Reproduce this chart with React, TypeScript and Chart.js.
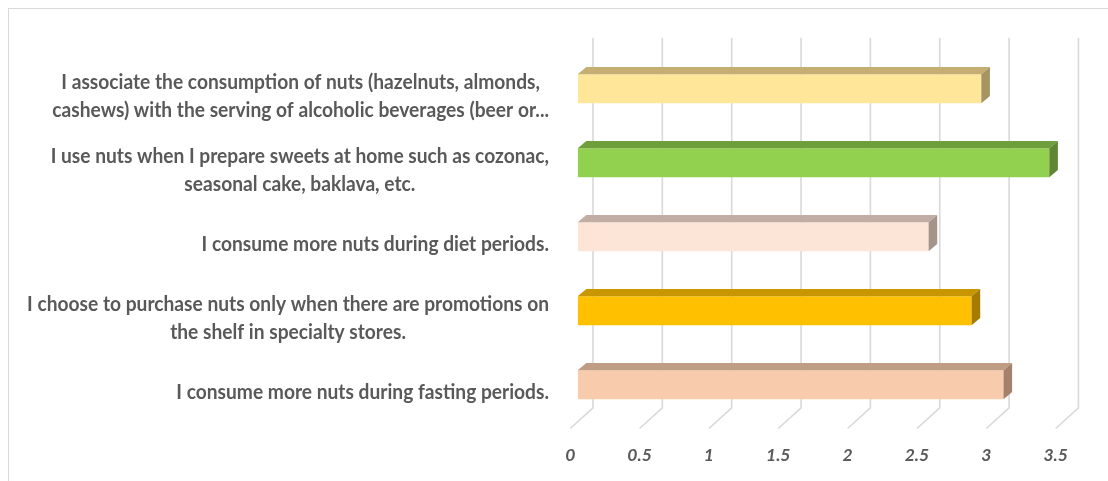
import React, { useEffect, useRef } from "react";
import { Chart, registerables } from "chart.js";

Chart.register(...registerables);

const categories: string[][] = [
  ["I associate the consumption of nuts (hazelnuts, almonds,", "cashews) with the serving of alcoholic beverages (beer or..."],
  ["I use nuts when I prepare sweets at home such as cozonac,", "seasonal cake, baklava, etc."],
  ["I consume more nuts during diet periods."],
  ["I choose to purchase nuts only when there are promotions on", "the shelf in specialty stores."],
  ["I consume more nuts during fasting periods."],
];
const values = [2.91, 3.4, 2.53, 2.84, 3.07];
const frontColors = ["#FFE699", "#92D050", "#FCE4D6", "#FFC000", "#F8CBAD"];
const topColors = ["#C4AE74", "#6F9E3D", "#C1ADA3", "#C79600", "#BF9C84"];
const sideColors = ["#A69462", "#5F8733", "#A59489", "#A67C00", "#A5806A"];
const tickValues = [0, 0.5, 1, 1.5, 2, 2.5, 3, 3.5];
const tickLabels = ["0", "0.5", "1", "1.5", "2", "2.5", "3", "3.5"];

const W = 1108;
const H = 481;
const BACK_DX = 15.3;
const BACK_DY = -14;
const FRONT_DX = -7.5;
const FRONT_DY = 6.7;
const BAR_DX = 8.6;
const BAR_DY = 7.3;
const TEXT = "#595959";
const LABEL_RIGHT = 549;
const LINE_GAP = 27.7;
const LABEL_FONT = "bold 19.2px Lato";
const LABEL_SY = 1.11;

const threeD = {
  id: "threeD",
  beforeDatasetsDraw(chart: any) {
    const { ctx, chartArea: a } = chart;
    const xs = chart.scales.x;
    ctx.save();
    ctx.strokeStyle = "#D9D9D9";
    ctx.lineWidth = 1.6;
    tickValues.forEach((v) => {
      const px = xs.getPixelForValue(v);
      ctx.beginPath();
      ctx.moveTo(px + BACK_DX, a.top + BACK_DY);
      ctx.lineTo(px + BACK_DX, a.bottom + BACK_DY);
      ctx.lineTo(px + FRONT_DX, a.bottom + FRONT_DY);
      ctx.stroke();
    });
    ctx.restore();
  },
  afterDatasetsDraw(chart: any) {
    const { ctx } = chart;
    const meta = chart.getDatasetMeta(0);
    ctx.save();
    meta.data.forEach((bar: any, i: number) => {
      const { x, y, base, height } = bar.getProps(["x", "y", "base", "height"], true);
      const top = y - height / 2;
      const bottom = y + height / 2;
      ctx.fillStyle = topColors[i];
      ctx.beginPath();
      ctx.moveTo(base, top);
      ctx.lineTo(base + BAR_DX, top - BAR_DY);
      ctx.lineTo(x + BAR_DX, top - BAR_DY);
      ctx.lineTo(x, top);
      ctx.closePath();
      ctx.fill();
      ctx.fillStyle = sideColors[i];
      ctx.beginPath();
      ctx.moveTo(x, top);
      ctx.lineTo(x + BAR_DX, top - BAR_DY);
      ctx.lineTo(x + BAR_DX, bottom - BAR_DY);
      ctx.lineTo(x, bottom);
      ctx.closePath();
      ctx.fill();
    });
    ctx.restore();
  },
  afterDraw(chart: any) {
    const { ctx, chartArea: a } = chart;
    const xs = chart.scales.x;
    const ys = chart.scales.y;
    ctx.save();
    ctx.fillStyle = TEXT;
    // category labels
    ctx.font = LABEL_FONT;
    ctx.textAlign = "center";
    ctx.textBaseline = "alphabetic";
    categories.forEach((lines, i) => {
      const c = ys.getPixelForValue(i) + 14.3;
      const bw = Math.max(...lines.map((l) => ctx.measureText(l).width));
      const cx = LABEL_RIGHT - bw / 2;
      lines.forEach((line, j) => {
        const by = c + (j - (lines.length - 1) / 2) * LINE_GAP;
        ctx.save();
        ctx.translate(cx, by);
        ctx.scale(1, LABEL_SY);
        ctx.fillText(line, 0, 0);
        ctx.restore();
      });
    });
    // value axis labels on the front floor edge
    ctx.font = "italic bold 17.5px Lato";
    ctx.textBaseline = "middle";
    tickValues.forEach((v, i) => {
      const px = xs.getPixelForValue(v) + FRONT_DX;
      ctx.fillText(tickLabels[i], px, a.bottom + 33.5);
    });
    ctx.restore();
  },
};

export default function App() {
  const ref = useRef<HTMLCanvasElement | null>(null);
  useEffect(() => {
    if (!ref.current) return;
    const left = 577.7;
    const unit = 138.7;
    const right = W - (left + 3.5 * unit);
    const chart = new Chart(ref.current, {
      type: "bar",
      data: {
        labels: categories.map((l) => l.join(" ")),
        datasets: [
          {
            data: values,
            backgroundColor: frontColors,
            borderWidth: 0,
            categoryPercentage: 29 / 74,
            barPercentage: 1,
          },
        ],
      },
      options: {
        indexAxis: "y",
        responsive: false,
        animation: false,
        devicePixelRatio: 1,
        layout: { padding: { left, right, top: 51.8, bottom: H - 421.8 } },
        scales: {
          x: { type: "linear", min: 0, max: 3.5, display: false },
          y: { display: false },
        },
        plugins: { legend: { display: false }, tooltip: { enabled: false } },
      },
      plugins: [threeD],
    } as any);
    return () => chart.destroy();
  }, []);
  return (
    <div style={{ position: "absolute", left: 0, top: 0, width: W, height: H, overflow: "hidden", background: "#fff" }}>
      <div
        style={{
          position: "absolute",
          left: 8,
          top: 8,
          width: W + 20,
          height: H + 20,
          border: "1.5px solid #D9D9D9",
          boxSizing: "border-box",
        }}
      />
      <canvas ref={ref} width={W} height={H} style={{ position: "absolute", left: 0, top: 0, width: W, height: H }} />
    </div>
  );
}
